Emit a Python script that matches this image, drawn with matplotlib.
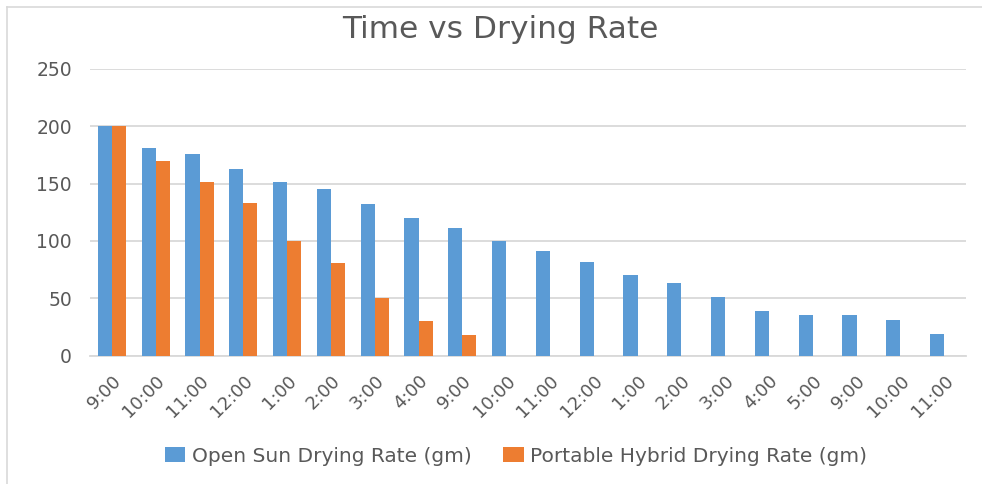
import matplotlib
matplotlib.use("Agg")
import matplotlib.pyplot as plt
import numpy as np
from matplotlib.lines import Line2D

plt.rcParams['font.family'] = ['DejaVu Sans']

times = ["9:00", "10:00", "11:00", "12:00", "1:00", "2:00", "3:00", "4:00",
         "9:00", "10:00", "11:00", "12:00", "1:00", "2:00", "3:00", "4:00",
         "5:00", "9:00", "10:00", "11:00"]
open_sun = [200, 181, 176, 163, 151, 145, 132, 120, 111, 100,
            91, 82, 70, 63, 51, 39, 35, 35, 31, 19]
hybrid = [200, 170, 151, 133, 100, 81, 50, 30, 18]

blue = "#5B9BD5"
orange = "#ED7D31"
text_c = "#595959"
grid_c = "#D9D9D9"

fig = plt.figure(figsize=(9.82, 4.84), dpi=100)
ax = fig.add_axes([90/982, 1-355.5/484, 876/982, (355.5-69)/484])

x = np.arange(len(times))
w = 0.32
ax.bar(x - w/2, open_sun, width=w, color=blue, label="Open Sun Drying Rate (gm)", zorder=3)
ax.bar(np.arange(len(hybrid)) + w/2, hybrid, width=w, color=orange,
       label="Portable Hybrid Drying Rate (gm)", zorder=3)

ax.set_xlim(-0.5, len(times) - 0.5)
ax.set_ylim(0, 250)
ax.set_yticks(range(0, 251, 50))
ax.yaxis.grid(True, color=grid_c, linewidth=1.3, zorder=0)
ax.set_axisbelow(True)
for s in ["top", "right", "left"]:
    ax.spines[s].set_visible(False)
ax.spines["bottom"].set_color(grid_c)
ax.spines["bottom"].set_linewidth(1.3)
ax.tick_params(axis="x", length=0, colors=text_c, labelsize=13, pad=12)
ax.tick_params(axis="y", length=0, colors=text_c, labelsize=13.5, pad=13)
ax.set_xticks(x)
ax.set_xticklabels(times, rotation=45, ha="right", rotation_mode="anchor")

fig.text(500/982, 1-29/484, "Time vs Drying Rate", ha="center", va="center",
         fontsize=22.5, color=text_c)

leg = fig.legend(loc="center", bbox_to_anchor=(516/982, 1-456/484), ncol=2, frameon=False,
                 fontsize=14.5, handlelength=1.0, handleheight=0.8, handletextpad=0.3,
                 columnspacing=1.6, labelcolor=text_c)

fig.add_artist(Line2D([7/982, 7/982], [0, 1-7/484], color=grid_c, linewidth=1.2))
fig.add_artist(Line2D([7/982, 1], [1-7/484, 1-7/484], color=grid_c, linewidth=1.2))

fig.savefig("out.png", dpi=100)
